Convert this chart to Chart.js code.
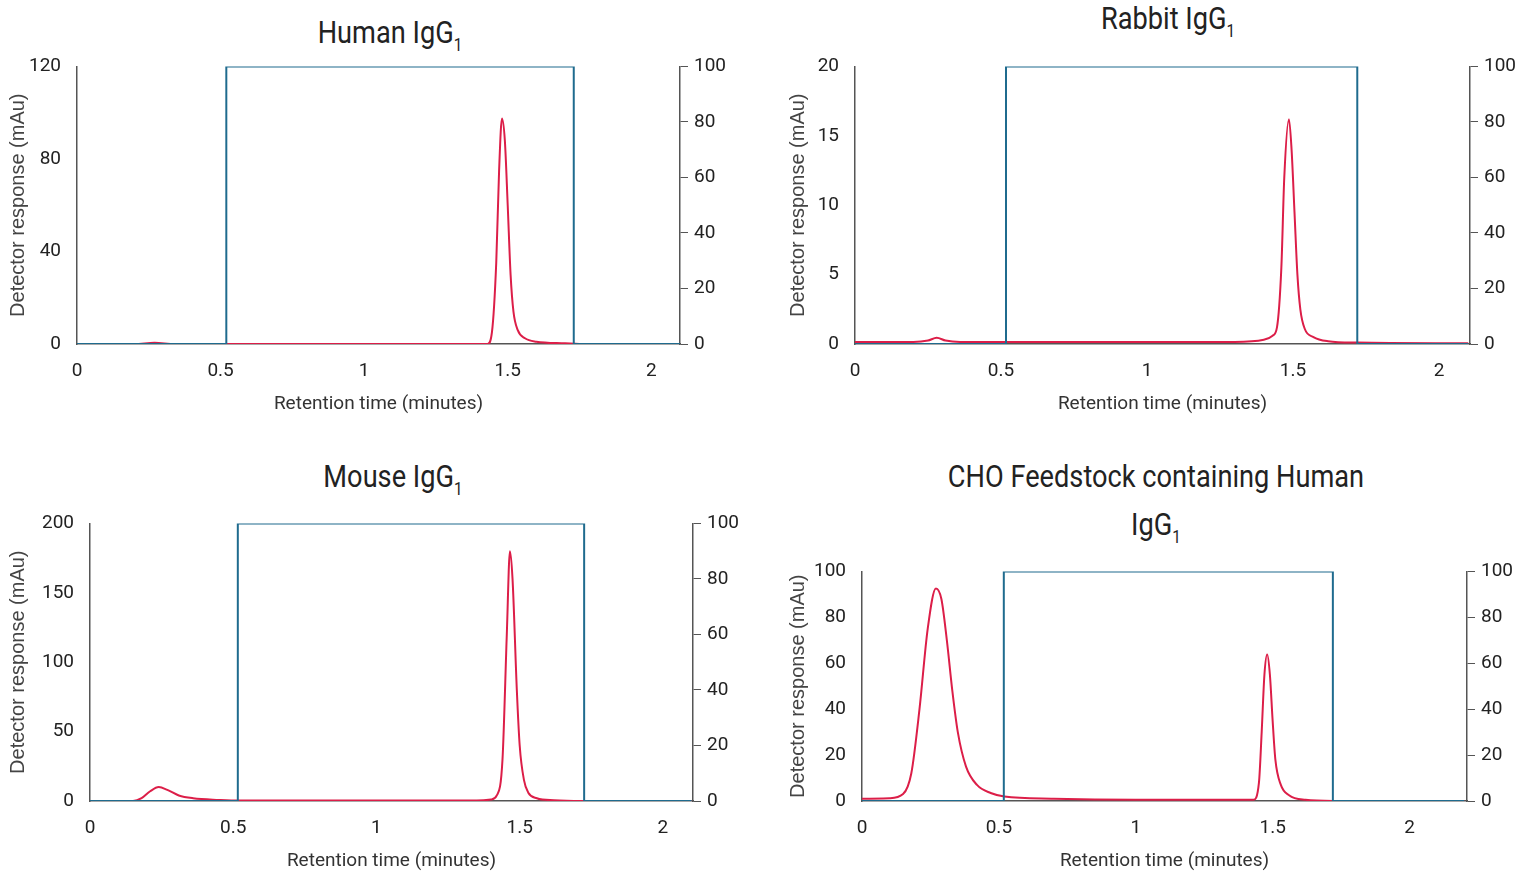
<!DOCTYPE html>
<html><head><meta charset="utf-8">
<script src="https://cdn.jsdelivr.net/npm/chart.js@4"></script>
<style>
body{margin:0;background:#fff;width:1532px;height:874px;position:relative;overflow:hidden;font-family:"Roboto","DejaVu Sans",sans-serif;}
.box{position:absolute;}
.title{position:absolute;text-align:center;font-size:32px;color:#222;line-height:48px;transform:translateX(-50%) scaleX(0.85);white-space:nowrap;}
.title sub{font-size:18px;vertical-align:-8px;}
</style></head><body>
<div class="title" style="left:390px;top:8px">Human IgG<sub>1</sub></div>
<div class="title" style="left:1168px;top:-6px">Rabbit IgG<sub>1</sub></div>
<div class="title" style="left:393px;top:452px">Mouse IgG<sub>1</sub></div>
<div class="title" style="left:1156px;top:452px">CHO Feedstock containing Human<br>IgG<sub>1</sub></div>
<div class="box" style="left:0;top:47px;width:760px;height:369px"><canvas id="c1"></canvas></div>
<div class="box" style="left:780px;top:47px;width:752px;height:369px"><canvas id="c2"></canvas></div>
<div class="box" style="left:0;top:504px;width:760px;height:369px"><canvas id="c3"></canvas></div>
<div class="box" style="left:780px;top:552px;width:752px;height:321px"><canvas id="c4"></canvas></div>
<script>
/* ===== DATA ===== */
const X_TICKS = [0, 0.5, 1, 1.5, 2];
const RIGHT_TICKS = [0, 20, 40, 60, 80, 100];

const HUMAN_TICKS = [0, 40, 80, 120];
const RABBIT_TICKS = [0, 5, 10, 15, 20];
const MOUSE_TICKS = [0, 50, 100, 150, 200];
const CHO_TICKS = [0, 20, 40, 60, 80, 100];

const HUMAN_GRAD = [[0,0],[0.52,0],[0.52,100],[1.73,100],[1.73,0],[2.1,0]];
const RABBIT_GRAD = [[0,0],[0.517,0],[0.517,100],[1.72,100],[1.72,0],[2.1,0]];
const MOUSE_GRAD = [[0,0],[0.516,0],[0.516,100],[1.725,100],[1.725,0],[2.1,0]];
const CHO_GRAD = [[0,0],[0.518,0],[0.518,100],[1.72,100],[1.72,0],[2.2,0]];

const HUMAN_SIGNAL = [[0,0],[0.2,0],[0.27,0.5],[0.34,0],[1.43,0],[1.445,5],[1.46,35],[1.47,75],[1.48,97.5],
  [1.49,88],[1.5,60],[1.51,30],[1.52,14],[1.535,6],[1.56,2.5],[1.6,1],[1.7,0.3],[1.75,0],[2.1,0]];
const RABBIT_SIGNAL = [[0,0.15],[0.2,0.15],[0.25,0.25],[0.28,0.45],[0.31,0.25],[0.36,0.15],[1.3,0.15],[1.4,0.3],
  [1.43,0.6],[1.445,1.2],[1.46,5.5],[1.47,12],[1.486,16.2],[1.495,14],[1.505,9.5],[1.515,5],[1.525,2.5],
  [1.54,1.1],[1.57,0.5],[1.62,0.2],[1.72,0.1],[2.1,0.05]];
const MOUSE_SIGNAL = [[0,0],[0.15,0],[0.18,2],[0.21,7],[0.24,10],[0.27,8],[0.31,4],[0.36,2],[0.45,0.8],[0.52,0.3],
  [1.35,0.3],[1.40,1],[1.42,4],[1.44,30],[1.455,120],[1.466,180],[1.475,160],[1.49,80],[1.50,40],[1.515,15],
  [1.53,6],[1.56,2],[1.62,0.5],[1.72,0],[2.1,0]];
const CHO_SIGNAL = [[0,1],[0.1,1.2],[0.15,3],[0.18,12],[0.21,40],[0.24,75],[0.27,92.6],[0.29,88],[0.31,70],[0.33,48],
  [0.35,30],[0.38,15],[0.42,7],[0.47,3.5],[0.52,2],[0.7,1],[1.0,0.5],[1.43,0.5],[1.45,8],[1.46,30],[1.47,55],
  [1.48,63.8],[1.49,55],[1.50,35],[1.51,18],[1.53,7],[1.56,2.5],[1.62,0.5],[1.72,0],[2.2,0]];

/* ===== CHARTS ===== */
const NARROW = 'Roboto,"DejaVu Sans",sans-serif';
const RED = '#dc1e48', BLUE = '#1f6b8e', AXIS = '#555';
const pts = (arr) => arr.map(([x, y]) => ({ x, y }));
const fixTicks = (list) => (scale) => { scale.ticks = list.map(v => ({ value: v })); };

function makeChart(id, signal, grad, yTicks, xMax, box) {
  new Chart(document.getElementById(id), {
    type: 'line',
    data: { datasets: [
      { data: pts(grad), yAxisID: 'y2', borderColor: BLUE, borderWidth: 2, pointRadius: 0, tension: 0 },
      { data: pts(signal), yAxisID: 'y', borderColor: RED, borderWidth: 2, pointRadius: 0, cubicInterpolationMode: 'monotone' },
    ] },
    options: {
      responsive: true, maintainAspectRatio: false, animation: false,
      layout: { padding: { top: box.top, left: 6, right: 0, bottom: 0 } },
      plugins: { legend: { display: false }, tooltip: { enabled: false } },
      scales: {
        x: {
          type: 'linear', min: 0, max: xMax,
          afterBuildTicks: fixTicks(X_TICKS),
          afterFit: (s) => { s.height = box.xH; },
          grid: { display: false },
          border: { color: AXIS, width: 1.5 },
          ticks: { color: '#222', font: { family: NARROW, size: 19 }, padding: 8, maxRotation: 0, callback: (v) => String(v) },
          title: { display: true, text: 'Retention time (minutes)', color: '#333', font: { family: NARROW, size: 19 }, padding: 0 },
        },
        y: {
          position: 'left', min: 0, max: yTicks[yTicks.length - 1],
          afterBuildTicks: fixTicks(yTicks),
          afterFit: (s) => { s.width = box.yL - 6; },
          grid: { display: false },
          border: { color: AXIS, width: 1.5 },
          ticks: { color: '#222', font: { family: NARROW, size: 19 }, padding: 8 },
          title: { display: true, text: 'Detector response (mAu)', color: '#444', font: { family: '"Liberation Sans",Arial,sans-serif', size: 20 }, padding: 0 },
        },
        y2: {
          position: 'right', min: 0, max: 100,
          afterBuildTicks: fixTicks(RIGHT_TICKS),
          afterFit: (s) => { s.width = box.yR; },
          grid: { drawOnChartArea: false, tickLength: 8, color: AXIS },
          border: { color: AXIS, width: 1.5 },
          ticks: { color: '#222', font: { family: NARROW, size: 19 }, padding: 6 },
        },
      },
    },
  });
}

makeChart('c1', HUMAN_SIGNAL, HUMAN_GRAD, HUMAN_TICKS, 2.1, { top: 4, xH: 72, yL: 77, yR: 80 });
makeChart('c2', RABBIT_SIGNAL, RABBIT_GRAD, RABBIT_TICKS, 2.106, { top: 4, xH: 72, yL: 75, yR: 62 });
makeChart('c3', MOUSE_SIGNAL, MOUSE_GRAD, MOUSE_TICKS, 2.105, { top: 4, xH: 72, yL: 90, yR: 67 });
makeChart('c4', CHO_SIGNAL, CHO_GRAD, CHO_TICKS, 2.21, { top: 4, xH: 72, yL: 82, yR: 65 });
</script>
</body></html>
